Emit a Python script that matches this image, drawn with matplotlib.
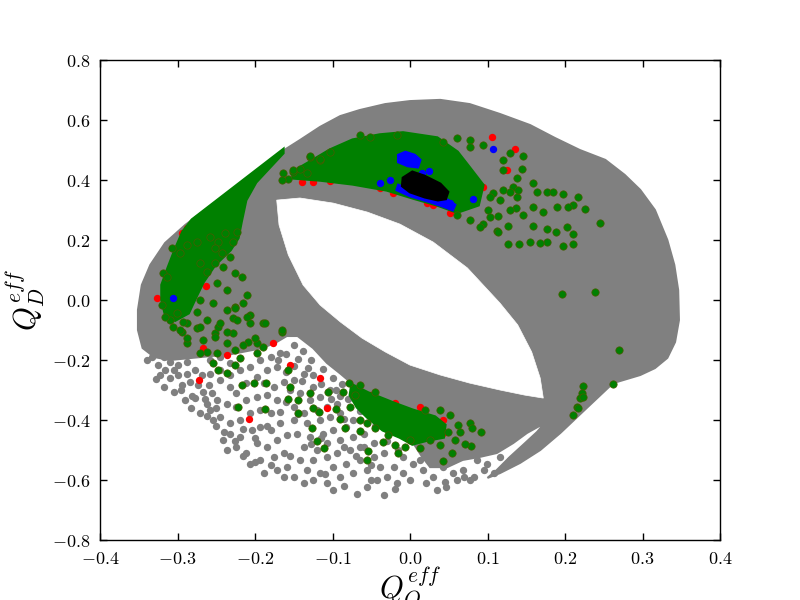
import matplotlib
matplotlib.use("Agg")
import matplotlib.pyplot as plt
from matplotlib.ticker import FuncFormatter, MultipleLocator

plt.rcParams['mathtext.fontset'] = 'cm'

# ---------------- data ----------------
# dense grey region: outer boundary (incl. upper-left wedge and lower-right tail)
grey_outer = [(-0.164, 0.497), (-0.142, 0.533), (-0.116, 0.577), (-0.090, 0.613), (-0.065, 0.633),
              (-0.032, 0.653), (0.0, 0.663), (0.039, 0.667), (0.077, 0.653), (0.116, 0.620),
              (0.155, 0.583), (0.187, 0.540), (0.219, 0.500), (0.252, 0.467), (0.277, 0.417),
              (0.297, 0.367), (0.316, 0.300), (0.332, 0.200), (0.341, 0.117), (0.346, 0.033),
              (0.347, -0.067), (0.342, -0.140), (0.332, -0.193), (0.316, -0.227), (0.297, -0.250),
              (0.262, -0.277), (0.230, -0.355), (0.194, -0.443), (0.168, -0.500), (0.142, -0.543),
              (0.116, -0.577), (0.100, -0.593),
              (0.112, -0.567), (0.129, -0.523), (0.146, -0.483), (0.164, -0.440), (0.174, -0.410),
              (0.151, -0.443), (0.133, -0.477), (0.112, -0.510), (0.090, -0.523), (0.068, -0.533),
              (0.048, -0.557), (0.026, -0.557), (0.015, -0.520), (0.005, -0.480), (-0.009, -0.440),
              (-0.030, -0.390), (-0.048, -0.330), (-0.074, -0.280), (-0.090, -0.245), (-0.107, -0.210),
              (-0.125, -0.160), (-0.145, -0.120), (-0.159, -0.120), (-0.172, -0.140), (-0.190, -0.160),
              (-0.210, -0.170), (-0.230, -0.180), (-0.250, -0.185), (-0.270, -0.190), (-0.290, -0.195),
              (-0.310, -0.200), (-0.330, -0.190), (-0.345, -0.160), (-0.351, -0.100), (-0.351, -0.033),
              (-0.346, 0.050), (-0.335, 0.117), (-0.316, 0.190), (-0.290, 0.250)]

# empty lens-shaped hole inside the ring
hole = [(-0.172, 0.333), (-0.169, 0.250), (-0.157, 0.150), (-0.138, 0.050), (-0.116, -0.017),
        (-0.090, -0.073), (-0.062, -0.127), (-0.032, -0.173), (0.0, -0.217), (0.039, -0.250),
        (0.077, -0.277), (0.116, -0.300), (0.148, -0.317), (0.172, -0.327), (0.168, -0.260),
        (0.157, -0.173), (0.139, -0.083), (0.116, -0.010), (0.074, 0.107), (0.030, 0.193),
        (-0.013, 0.253), (-0.055, 0.293), (-0.099, 0.323), (-0.142, 0.340)]

# sparse grey points below the ring
grey_pts = [
    (-0.331, -0.167), (-0.333, -0.189), (-0.318, -0.189), (-0.310, -0.206), (-0.325, -0.217),
    (-0.316, -0.234), (-0.305, -0.234), (-0.299, -0.217), (-0.288, -0.206), (-0.322, -0.250),
    (-0.310, -0.261), (-0.299, -0.250), (-0.288, -0.245), (-0.277, -0.234), (-0.269, -0.250),
    (-0.318, -0.289), (-0.305, -0.306), (-0.294, -0.284), (-0.284, -0.272), (-0.273, -0.284),
    (-0.267, -0.306), (-0.290, -0.334), (-0.277, -0.328), (-0.262, -0.345), (-0.249, -0.334),
    (-0.260, -0.284), (-0.256, -0.311), (-0.340, -0.200), (-0.328, -0.262), (-0.296, -0.300),
    (-0.281, -0.320), (-0.262, -0.385), (-0.254, -0.400), (-0.241, -0.467), (-0.258, -0.367),
    (-0.271, -0.378), (-0.282, -0.361), (-0.250, -0.420), (-0.240, -0.440), (-0.226, -0.470),
    (-0.236, -0.500), (-0.215, -0.520), (-0.200, -0.540), (-0.180, -0.550),
    (-0.245, -0.267), (-0.232, -0.289), (-0.224, -0.311), (-0.211, -0.278), (-0.198, -0.256),
    (-0.185, -0.234), (-0.172, -0.223), (-0.189, -0.278), (-0.176, -0.289), (-0.163, -0.272),
    (-0.236, -0.345), (-0.224, -0.356), (-0.211, -0.334), (-0.198, -0.322), (-0.185, -0.317),
    (-0.172, -0.334), (-0.245, -0.389), (-0.232, -0.411), (-0.219, -0.400), (-0.206, -0.378),
    (-0.193, -0.367), (-0.180, -0.378), (-0.168, -0.372), (-0.232, -0.445), (-0.219, -0.456),
    (-0.204, -0.434), (-0.193, -0.422), (-0.180, -0.434), (-0.168, -0.411), (-0.224, -0.489),
    (-0.211, -0.511), (-0.198, -0.478), (-0.185, -0.489), (-0.172, -0.467), (-0.159, -0.450),
    (-0.206, -0.545), (-0.193, -0.534), (-0.176, -0.522), (-0.163, -0.511), (-0.189, -0.578),
    (-0.172, -0.567), (-0.159, -0.556), (-0.163, -0.589), (-0.137, -0.611),
    (-0.258, -0.200), (-0.245, -0.189), (-0.232, -0.211), (-0.219, -0.234), (-0.206, -0.223),
    (-0.193, -0.200), (-0.180, -0.189), (-0.168, -0.178), (-0.245, -0.234), (-0.232, -0.250),
    (-0.258, -0.245), (-0.250, -0.360), (-0.265, -0.330), (-0.185, -0.420), (-0.200, -0.460),
    (-0.215, -0.430),
    (-0.150, -0.267), (-0.137, -0.245), (-0.125, -0.289), (-0.142, -0.311), (-0.129, -0.334),
    (-0.116, -0.322), (-0.103, -0.300), (-0.150, -0.356), (-0.137, -0.378), (-0.120, -0.367),
    (-0.107, -0.356), (-0.094, -0.345), (-0.150, -0.400), (-0.133, -0.411), (-0.116, -0.400),
    (-0.103, -0.389), (-0.090, -0.378), (-0.146, -0.445), (-0.129, -0.456), (-0.112, -0.445),
    (-0.099, -0.434), (-0.082, -0.422), (-0.073, -0.400), (-0.137, -0.489), (-0.120, -0.500),
    (-0.107, -0.478), (-0.090, -0.467), (-0.073, -0.456), (-0.060, -0.445), (-0.142, -0.534),
    (-0.125, -0.534), (-0.107, -0.522), (-0.094, -0.511), (-0.077, -0.500), (-0.064, -0.489),
    (-0.047, -0.478), (-0.133, -0.567), (-0.116, -0.578), (-0.099, -0.556), (-0.082, -0.545),
    (-0.064, -0.534), (-0.047, -0.522), (-0.034, -0.511), (-0.107, -0.611), (-0.090, -0.589),
    (-0.073, -0.578), (-0.056, -0.567), (-0.039, -0.556), (-0.099, -0.634), (-0.069, -0.645),
    (-0.056, -0.622), (-0.034, -0.650), (-0.043, -0.600), (-0.030, -0.589),
    (-0.155, -0.300), (-0.160, -0.340), (-0.145, -0.380), (-0.128, -0.480), (-0.155, -0.520),
    (-0.115, -0.460), (-0.085, -0.490), (-0.070, -0.520), (-0.060, -0.490), (-0.050, -0.550),
    (-0.045, -0.420), (-0.030, -0.470), (-0.015, -0.500), (-0.085, -0.395), (-0.095, -0.300),
    (-0.080, -0.330), (-0.065, -0.370), (-0.140, -0.270), (-0.125, -0.250), (-0.150, -0.590),
    (-0.125, -0.600), (-0.110, -0.580), (-0.085, -0.620), (-0.050, -0.600), (-0.020, -0.630),
    (-0.021, -0.556), (-0.009, -0.578), (0.004, -0.545), (0.017, -0.567), (0.030, -0.589),
    (0.043, -0.556), (0.056, -0.578), (0.069, -0.567), (0.082, -0.589), (0.095, -0.567),
    (0.108, -0.575), (-0.017, -0.611), (0.000, -0.600), (0.035, -0.634), (0.047, -0.622),
    (0.060, -0.600), (0.078, -0.600), (0.099, -0.545), (0.116, -0.522), (0.129, -0.534),
    (0.013, -0.534), (0.056, -0.534), (0.086, -0.534), (-0.009, -0.522), (0.020, -0.610),
    (0.045, -0.605), (0.070, -0.590),
    (-0.150, -0.150), (-0.138, -0.170), (-0.128, -0.200), (-0.112, -0.230), (-0.100, -0.260),
    (-0.088, -0.280), (-0.160, -0.180), (-0.170, -0.200), (-0.150, -0.220), (-0.115, -0.280),
    (-0.102, -0.330), (-0.090, -0.320), (-0.160, -0.240), (-0.145, -0.195), (-0.132, -0.225),
]

# green dense wedge (upper-left tail) and dense green clusters
green_wedge = [(-0.164, 0.500), (-0.281, 0.267), (-0.293, 0.227), (-0.303, 0.167), (-0.312, 0.107),
               (-0.320, 0.050), (-0.320, 0.0), (-0.316, -0.043), (-0.303, -0.067), (-0.286, -0.043),
               (-0.277, 0.007), (-0.267, 0.060), (-0.252, 0.117), (-0.232, 0.167), (-0.222, 0.207),
               (-0.218, 0.260), (-0.212, 0.333), (-0.199, 0.393), (-0.181, 0.443), (-0.164, 0.490)]
green_top = [(-0.151, 0.427), (-0.129, 0.460), (-0.103, 0.500), (-0.074, 0.533), (-0.039, 0.550),
             (-0.009, 0.557), (0.035, 0.540), (0.061, 0.493), (0.077, 0.440), (0.094, 0.383),
             (0.088, 0.317), (0.061, 0.293), (0.035, 0.317), (0.004, 0.340), (-0.030, 0.367),
             (-0.074, 0.387), (-0.116, 0.400), (-0.151, 0.407)]
green_low = [(-0.075, -0.283), (-0.054, -0.310), (-0.022, -0.343), (0.003, -0.367), (0.032, -0.390),
             (0.045, -0.417), (0.043, -0.457), (0.022, -0.467), (0.003, -0.480), (-0.013, -0.457),
             (-0.035, -0.433), (-0.055, -0.390), (-0.068, -0.357), (-0.077, -0.317)]

green_pts = [
    (0.146, 0.480), (0.145, 0.437), (0.159, 0.390), (0.164, 0.360), (0.177, 0.360), (0.185, 0.360),
    (0.197, 0.353), (0.217, 0.343), (0.226, 0.303), (0.210, 0.317), (0.204, 0.310), (0.190, 0.310),
    (0.172, 0.293), (0.159, 0.310), (0.146, 0.283), (0.137, 0.307), (0.129, 0.300), (0.126, 0.247),
    (0.112, 0.230), (0.159, 0.247), (0.177, 0.237), (0.188, 0.227), (0.203, 0.243), (0.210, 0.220),
    (0.210, 0.187), (0.197, 0.180), (0.177, 0.193), (0.168, 0.190), (0.155, 0.193), (0.141, 0.187),
    (0.126, 0.187), (0.245, 0.257), (0.196, 0.020), (0.239, 0.027), (0.094, 0.253), (0.114, 0.280),
    (0.133, 0.377), (0.138, 0.343), (0.120, 0.367), (0.107, 0.357),
    (0.077, 0.533), (0.077, 0.510), (0.094, 0.517), (0.120, 0.467), (0.129, 0.490), (0.120, 0.433),
    (0.138, 0.407), (0.139, 0.367), (0.129, 0.360), (0.116, 0.333), (0.103, 0.343), (0.100, 0.300),
    (0.077, 0.267), (0.090, 0.243), (0.061, 0.283), (0.114, 0.227), (0.103, 0.277), (0.043, 0.527),
    (0.061, 0.540), (-0.065, 0.550), (-0.052, 0.545), (-0.017, 0.550), (-0.129, 0.477), (-0.116, 0.467),
    (-0.164, 0.423), (-0.151, 0.427), (-0.157, 0.403),
    (0.270, -0.167), (0.262, -0.280), (0.223, -0.287), (0.222, -0.310), (0.219, -0.327), (0.215, -0.357),
    (0.210, -0.383), (0.217, -0.360), (0.223, -0.323),
    (-0.129, -0.310), (-0.106, -0.307), (-0.125, -0.360), (-0.117, -0.373), (-0.090, -0.397),
    (-0.084, -0.427), (-0.065, -0.437), (-0.077, -0.357), (-0.126, -0.427), (-0.120, -0.470),
    (-0.111, -0.493), (-0.055, -0.410), (-0.035, -0.473), (-0.019, -0.483), (-0.015, -0.510),
    (-0.055, -0.533), (-0.054, -0.503), (0.0, -0.467), (0.054, -0.510), (0.043, -0.537),
    (0.062, -0.417), (0.065, -0.440), (0.077, -0.410), (0.080, -0.427), (0.092, -0.440),
    (0.079, -0.487), (0.071, -0.480), (0.039, -0.483), (-0.079, -0.277), (-0.086, -0.307),
    (0.013, -0.493), (0.026, -0.467), (-0.006, -0.490), (-0.028, -0.450), (-0.045, -0.427),
    (-0.065, -0.400), (-0.071, -0.317), (-0.065, -0.283), (-0.045, -0.307), (0.052, -0.383),
    (0.039, -0.367), (0.019, -0.367), (0.058, -0.467), (0.049, -0.440),
    (-0.222, -0.357), (-0.201, -0.277), (-0.187, -0.363), (-0.186, -0.277), (-0.157, -0.233),
    (-0.155, -0.290), (-0.157, -0.330), (-0.145, -0.333), (-0.145, -0.377), (-0.095, -0.363),
    (-0.217, -0.283), (-0.165, -0.107), (-0.190, -0.077), (-0.197, -0.177), (-0.209, -0.140),
    (-0.219, -0.193), (-0.226, -0.217), (-0.236, -0.243), (-0.248, -0.233), (-0.254, -0.210),
    (-0.249, -0.177), (-0.262, -0.173), (-0.271, -0.177), (-0.267, -0.133), (-0.288, -0.143),
    (-0.294, -0.107), (-0.275, -0.093), (-0.252, -0.110), (-0.248, -0.090), (-0.236, -0.143),
    (-0.228, -0.110), (-0.226, -0.167), (-0.215, -0.150), (-0.206, -0.077), (-0.197, -0.143),
    (-0.190, -0.157), (-0.310, -0.067), (-0.301, -0.043), (-0.288, -0.077), (-0.226, -0.023),
    (-0.206, -0.050), (-0.228, -0.060),
    (-0.307, 0.173), (-0.297, 0.157), (-0.288, 0.183), (-0.275, 0.193), (-0.258, 0.210),
    (-0.248, 0.193), (-0.239, 0.223), (-0.228, 0.193), (-0.223, 0.227), (-0.252, 0.173),
    (-0.243, 0.157), (-0.232, 0.143), (-0.252, 0.123), (-0.262, 0.093), (-0.271, 0.123),
    (-0.241, 0.110), (-0.226, 0.090), (-0.217, 0.077), (-0.249, 0.057), (-0.236, 0.033),
    (-0.210, 0.017), (-0.215, -0.010), (-0.226, -0.027), (-0.236, -0.033), (-0.254, -0.010),
    (-0.271, 0.0), (-0.275, -0.040), (-0.262, -0.067), (-0.271, -0.090), (-0.293, -0.073),
    (-0.297, -0.100), (-0.288, -0.127), (-0.200, -0.127), (-0.165, -0.100), (-0.187, -0.077),
    (-0.210, -0.057), (-0.223, -0.067), (-0.245, -0.077), (-0.236, -0.107), (-0.252, -0.123),
    (-0.165, 0.400), (-0.151, 0.433), (-0.129, 0.480), (-0.116, 0.470), (-0.103, 0.493),
    (-0.142, 0.437), (-0.133, 0.423), (-0.319, 0.090), (-0.316, -0.057), (-0.306, -0.090),
    (-0.320, -0.017), (-0.314, 0.077),
]

red_pts = [
    (-0.139, 0.393), (-0.125, 0.393), (-0.288, 0.240), (-0.294, 0.223), (-0.262, 0.243),
    (-0.263, 0.047), (-0.326, 0.007), (-0.316, -0.010), (-0.312, -0.033), (-0.280, 0.023),
    (0.106, 0.543), (0.135, 0.503), (0.125, 0.433), (0.052, 0.290), (0.030, 0.317),
    (-0.022, 0.357), (-0.039, 0.373), (-0.103, 0.397), (0.022, 0.323), (0.074, 0.423),
    (0.094, 0.377), (-0.267, -0.160), (-0.177, -0.143), (-0.155, -0.217), (-0.272, -0.267),
    (-0.116, -0.260), (-0.107, -0.360), (-0.208, -0.397), (-0.236, -0.183), (0.013, -0.357),
    (-0.019, -0.343), (-0.052, -0.317), (0.043, -0.400), (0.043, -0.443), (0.035, -0.423),
]

blue_top = [(-0.015, 0.483), (-0.006, 0.493), (0.006, 0.483), (0.013, 0.467), (0.010, 0.443),
            (-0.003, 0.447), (-0.015, 0.460)]
blue_arc = [(-0.015, 0.383), (0.0, 0.367), (0.026, 0.347), (0.049, 0.333), (0.058, 0.317),
            (0.055, 0.300), (0.045, 0.310), (0.026, 0.327), (0.0, 0.347), (-0.017, 0.367)]
blue_pts = [(-0.039, 0.390), (-0.026, 0.400), (0.015, 0.423), (0.025, 0.430), (0.107, 0.503),
            (0.081, 0.337), (0.052, 0.323), (-0.306, 0.007)]

black_blob = [(-0.009, 0.407), (0.003, 0.427), (0.019, 0.413), (0.039, 0.387), (0.049, 0.360),
              (0.046, 0.337), (0.036, 0.333), (0.019, 0.343), (0.0, 0.360), (-0.010, 0.380)]

# ---------------- plotting ----------------
fig = plt.figure(figsize=(8, 6), dpi=100)
ax = fig.add_axes([0.125, 0.1, 0.775, 0.8])

GREY = '#808080'
GREEN = '#008000'
S = 28


def poly(pts, color, z, lw=1.5):
    xs, ys = zip(*pts)
    ax.fill(xs, ys, facecolor=color, edgecolor=color, linewidth=lw, zorder=z)


def dots(pts, color, z, ec=None, lw=0.0):
    xs, ys = zip(*pts)
    ax.scatter(xs, ys, s=S, c=color, edgecolors=ec if ec else color, linewidths=lw, zorder=z)


poly(grey_outer, GREY, 1)
dots(grey_pts, GREY, 1)
poly(hole, 'white', 2, lw=0.5)

dots(red_pts, 'red', 3)
poly(green_wedge, GREEN, 4, lw=2.5)
poly(green_top, GREEN, 4, lw=2.5)
poly(green_low, GREEN, 4, lw=2.5)
dots(green_pts, GREEN, 5, ec='#4a5a00', lw=0.5)
poly(blue_top, 'blue', 6, lw=2)
poly(blue_arc, 'blue', 6, lw=2)
dots(blue_pts, 'blue', 6)
poly(black_blob, 'black', 7, lw=2)

ax.set_xlim(-0.4, 0.4)
ax.set_ylim(-0.8, 0.8)
ax.xaxis.set_major_locator(MultipleLocator(0.1))
ax.yaxis.set_major_locator(MultipleLocator(0.2))
fmt = FuncFormatter(lambda v, p: r'$%.1f$' % (0.0 if abs(v) < 1e-9 else v))
ax.xaxis.set_major_formatter(fmt)
ax.yaxis.set_major_formatter(fmt)
ax.tick_params(direction='in', length=5, width=1, top=True, right=True, labelsize=13, pad=7)
for sp in ax.spines.values():
    sp.set_linewidth(1.0)

ax.set_xlabel(r'$Q_Q^{eff}$', fontsize=22)
ax.set_ylabel(r'$Q_D^{eff}$', fontsize=22)
ax.xaxis.set_label_coords(0.5, -0.053)
ax.yaxis.set_label_coords(-0.085, 0.5)

fig.savefig('out.png', dpi=100, facecolor='white')
